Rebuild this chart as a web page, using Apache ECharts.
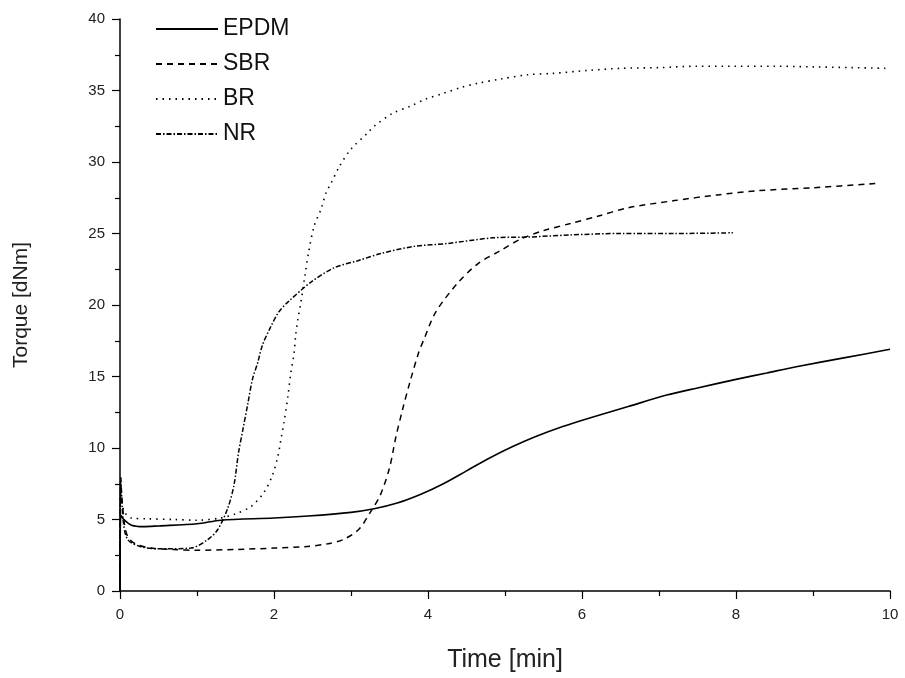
<!DOCTYPE html>
<html>
<head>
<meta charset="utf-8">
<script src="https://cdn.jsdelivr.net/npm/echarts@6/dist/echarts.min.js"></script>
<style>
html,body{margin:0;padding:0;background:#fff;}
#chart{width:905px;height:678px;}
</style>
</head>
<body>
<div id="chart"></div>
<script>
const seriesNames = ['EPDM', 'SBR', 'BR', 'NR'];
const xTicks = [0, 2, 4, 6, 8, 10];
const yTicks = [0, 5, 10, 15, 20, 25, 30, 35, 40];

const timeEPDM = [0, 0.01, 0.05, 0.15, 0.3, 0.5, 1.0, 1.31, 2.0, 2.44, 3.0, 3.3, 3.6, 3.9, 4.2, 4.5, 4.8, 5.1, 5.4, 5.75, 6.1, 6.6, 7.1, 7.5, 8.0, 8.4, 8.8, 9.4, 10.0];
const torqueEPDM = [0, 5.3, 5.0, 4.6, 4.5, 4.55, 4.7, 4.95, 5.1, 5.24, 5.5, 5.75, 6.15, 6.75, 7.5, 8.4, 9.3, 10.1, 10.8, 11.5, 12.1, 12.9, 13.7, 14.2, 14.8, 15.25, 15.7, 16.3, 16.9];

const timeSBR = [0, 0.01, 0.05, 0.1, 0.2, 0.4, 0.7, 1.0, 1.5, 2.0, 2.4, 2.7, 2.9, 3.1, 3.25, 3.38, 3.5, 3.58, 3.67, 3.77, 3.88, 3.94, 4.1, 4.38, 4.65, 4.94, 5.2, 5.5, 5.85, 6.2, 6.6, 7.2, 7.76, 8.3, 9.0, 9.83];
const torqueSBR = [0, 7.5, 5.0, 3.8, 3.3, 3.0, 2.9, 2.85, 2.9, 3.0, 3.1, 3.3, 3.6, 4.3, 5.5, 6.7, 8.6, 10.7, 12.7, 14.7, 16.7, 17.5, 19.5, 21.5, 22.9, 23.8, 24.6, 25.2, 25.7, 26.2, 26.8, 27.3, 27.7, 28.0, 28.2, 28.5];

const timeBR = [0, 0.01, 0.05, 0.15, 0.36, 0.7, 1.0, 1.3, 1.5, 1.7, 1.87, 1.98, 2.05, 2.09, 2.13, 2.18, 2.22, 2.26, 2.28, 2.31, 2.35, 2.40, 2.45, 2.52, 2.61, 2.68, 2.74, 2.85, 3.0, 3.21, 3.3, 3.54, 3.77, 3.97, 4.2, 4.42, 4.64, 4.94, 5.29, 5.63, 6.07, 6.5, 7.0, 7.5, 8.0, 8.5, 9.0, 9.5, 9.94];
const torqueBR = [0, 7.0, 5.6, 5.1, 5.05, 5.0, 4.95, 5.1, 5.4, 5.9, 6.9, 8.1, 9.4, 10.6, 11.8, 13.6, 15.3, 16.6, 17.8, 19.0, 20.2, 22.0, 23.7, 25.5, 26.7, 27.9, 28.5, 29.7, 30.9, 32.0, 32.5, 33.4, 33.9, 34.4, 34.8, 35.2, 35.5, 35.8, 36.1, 36.2, 36.4, 36.55, 36.6, 36.7, 36.7, 36.7, 36.65, 36.6, 36.55];

const timeNR = [0, 0.01, 0.04, 0.1, 0.27, 0.5, 0.92, 1.14, 1.27, 1.4, 1.48, 1.54, 1.6, 1.66, 1.72, 1.79, 1.85, 1.96, 2.06, 2.18, 2.48, 2.78, 3.09, 3.39, 3.82, 4.25, 4.85, 5.29, 5.85, 6.5, 7.2, 7.96];
const torqueNR = [0, 8.0, 5.0, 3.6, 3.1, 2.95, 3.0, 3.6, 4.3, 5.8, 7.4, 9.7, 11.4, 13.1, 14.8, 16.0, 17.2, 18.5, 19.5, 20.2, 21.6, 22.6, 23.1, 23.6, 24.1, 24.3, 24.7, 24.75, 24.9, 25.0, 25.0, 25.05];

function pairs(xs, ys) { return xs.map((x, i) => [x, ys[i]]); }

const chart = echarts.init(document.getElementById('chart'), null, {renderer: 'canvas'});
const FONT = 'Liberation Sans, Arial, sans-serif';
const lineStyles = [
  {type: 'solid', width: 1.6},
  {type: [6, 5], width: 1.5},
  {type: [1.5, 5], width: 1.6},
  {type: [5, 2, 1.5, 2], width: 1.5}
];
const dataSets = [pairs(timeEPDM, torqueEPDM), pairs(timeSBR, torqueSBR), pairs(timeBR, torqueBR), pairs(timeNR, torqueNR)];

chart.setOption({
  animation: false,
  backgroundColor: '#ffffff',
  grid: {left: 120, right: 15, top: 19, bottom: 87, containLabel: false},
  legend: {
    orient: 'vertical',
    left: 150,
    top: 12,
    itemWidth: 62,
    itemHeight: 14,
    itemGap: 11,
    itemStyle: {opacity: 0},
    textStyle: {fontFamily: FONT, fontSize: 23, color: '#111', lineHeight: 24},
    data: seriesNames
  },
  xAxis: {
    type: 'value',
    min: 0, max: 10, interval: 2,
    name: 'Time [min]',
    nameLocation: 'middle',
    nameGap: 57,
    nameTextStyle: {fontFamily: FONT, fontSize: 25, color: '#222'},
    axisLine: {show: true, onZero: false, lineStyle: {color: '#000', width: 1.5}},
    axisTick: {show: true, length: 8, lineStyle: {color: '#000', width: 1.2}},
    minorTick: {show: true, splitNumber: 2, length: 5, lineStyle: {color: '#000', width: 1.2}},
    axisLabel: {fontFamily: FONT, fontSize: 15, color: '#222', margin: 16,
      formatter: v => xTicks.includes(v) ? String(v) : ''},
    splitLine: {show: false}
  },
  yAxis: {
    type: 'value',
    min: 0, max: 40, interval: 5,
    name: 'Torque [dNm]',
    nameLocation: 'middle',
    nameGap: 88,
    nameRotate: 90,
    nameTextStyle: {fontFamily: FONT, fontSize: 21, color: '#222'},
    axisLine: {show: true, onZero: false, lineStyle: {color: '#000', width: 1.5}},
    axisTick: {show: true, length: 8, lineStyle: {color: '#000', width: 1.2}},
    minorTick: {show: true, splitNumber: 2, length: 5, lineStyle: {color: '#000', width: 1.2}},
    axisLabel: {fontFamily: FONT, fontSize: 15, color: '#222', margin: 15,
      formatter: v => yTicks.includes(v) ? String(v) : ''},
    splitLine: {show: false}
  },
  series: seriesNames.map((name, i) => ({
    name: name,
    type: 'line',
    data: dataSets[i],
    symbol: 'none',
    showSymbol: false,
    smooth: 0.3,
    color: '#000',
    lineStyle: Object.assign({color: '#000'}, lineStyles[i])
  }))
});
</script>
</body>
</html>
